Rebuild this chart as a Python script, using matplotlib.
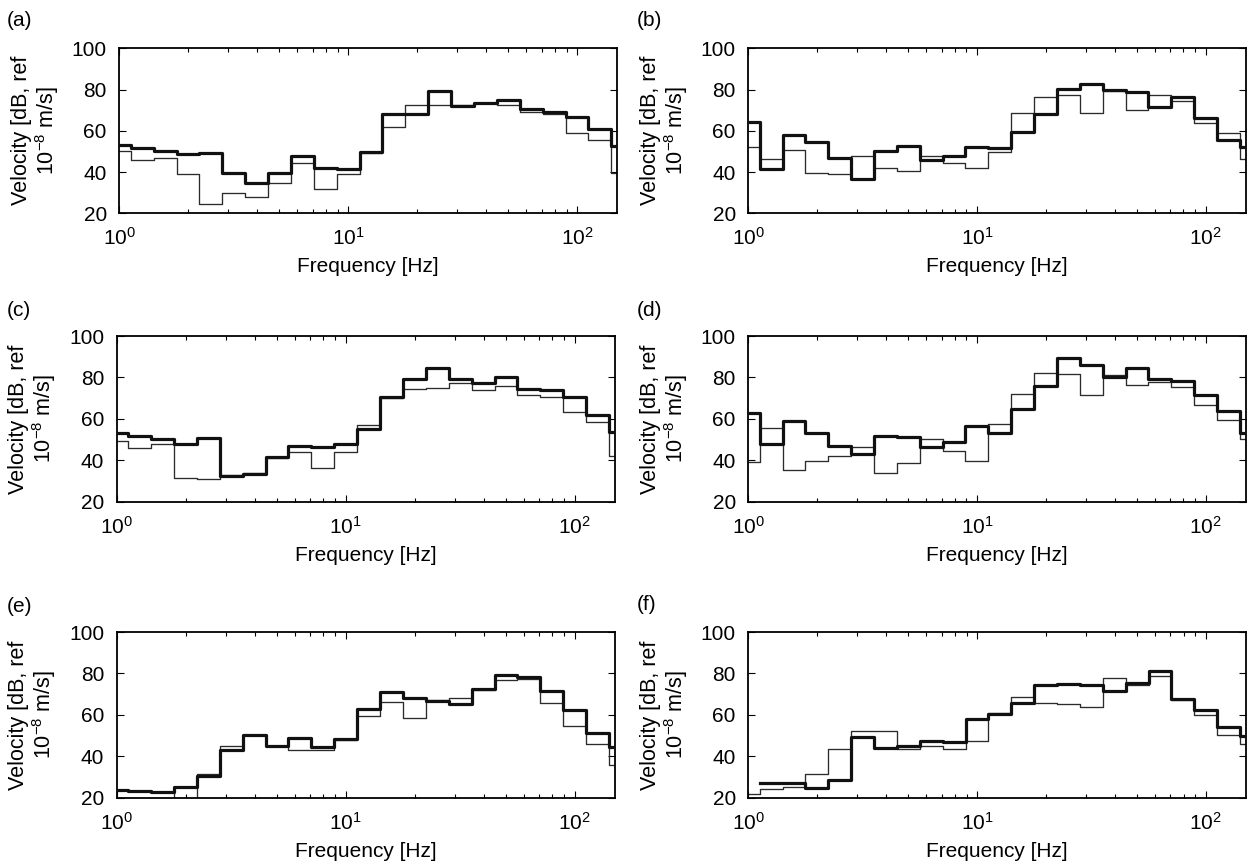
import numpy as np
import matplotlib
matplotlib.use("Agg")
import matplotlib.pyplot as plt

plt.rcParams["font.family"] = ["Liberation Sans", "DejaVu Sans"]
plt.rcParams["mathtext.fontset"] = "custom"
plt.rcParams["mathtext.rm"] = "Liberation Sans"
plt.rcParams["mathtext.it"] = "Liberation Sans:italic"
plt.rcParams["mathtext.bf"] = "Liberation Sans:bold"

# One-third octave band centre frequencies [Hz]
band_centres = [1, 1.25, 1.6, 2, 2.5, 3.15, 4, 5, 6.3, 8, 10, 12.5, 16,
                20, 25, 31.5, 40, 50, 63, 80, 100, 125, 160]

panel_labels = ["(a)", "(b)", "(c)", "(d)", "(e)", "(f)"]

# Band velocity levels [dB re 1e-8 m/s]: thick and thin curves per panel
a_thick = [53.0, 51.5, 50.4, 48.6, 49.1, 39.4, 34.6, 39.7, 48.0, 42.2, 41.4, 49.9,
           68.2, 68.2, 79.5, 72.1, 73.3, 75.0, 70.8, 69.0, 66.6, 60.7, 52.7]
a_thin = [50.4, 45.9, 47.0, 39.1, 24.6, 30.0, 27.8, 34.9, 44.3, 32.0, 39.1, 49.1,
          61.7, 72.5, 72.4, 72.4, 73.3, 72.5, 69.0, 68.2, 58.8, 55.3, 39.4]

b_thick = [64.1, 41.4, 58.0, 54.4, 46.7, 36.5, 50.0, 52.5, 46.0, 48.0, 52.3, 51.9,
           59.6, 68.2, 80.1, 82.6, 79.8, 79.0, 71.4, 76.6, 66.1, 55.6, 52.3]
b_thin = [52.0, 46.2, 50.7, 39.4, 39.1, 47.8, 42.2, 40.5, 47.6, 44.3, 41.8, 49.9,
          68.8, 76.6, 77.4, 68.5, 79.5, 70.1, 77.4, 74.6, 64.0, 58.8, 46.2]

c_thick = [53.3, 51.9, 50.1, 47.8, 50.6, 32.5, 33.5, 41.4, 47.0, 46.3, 47.8, 54.9,
           70.4, 79.1, 84.4, 79.1, 77.5, 80.0, 74.4, 73.9, 70.4, 61.8, 53.5]
c_thin = [49.4, 45.7, 47.8, 31.6, 30.8, 32.8, 33.8, 40.9, 43.8, 36.1, 44.1, 57.0,
          69.9, 74.2, 74.7, 77.5, 73.9, 75.8, 71.5, 70.7, 63.4, 58.6, 42.2]

d_thick = [63.0, 47.8, 58.9, 53.0, 47.0, 42.8, 51.9, 51.4, 46.3, 49.0, 56.5, 53.0,
           64.7, 76.0, 89.5, 86.0, 80.0, 84.4, 79.2, 78.4, 71.5, 63.9, 53.0]
d_thin = [39.3, 55.4, 35.3, 39.8, 42.2, 46.2, 33.7, 38.5, 50.2, 44.4, 39.8, 57.5,
          72.0, 82.0, 81.6, 71.5, 81.2, 76.3, 77.9, 75.5, 66.7, 59.4, 50.1]

e_thick = [23.5, 23.0, 22.7, 25.4, 30.3, 42.8, 50.1, 44.8, 48.8, 44.4, 48.1, 62.6,
           71.0, 68.1, 66.7, 65.1, 72.6, 79.1, 78.3, 71.5, 62.2, 51.2, 44.4]
e_thin = [23.8, 23.2, 22.7, 18.0, 31.6, 44.8, 50.1, 44.8, 42.8, 43.0, 47.7, 59.3,
          66.2, 58.6, 67.3, 68.3, 72.1, 77.0, 77.5, 65.7, 54.4, 46.1, 35.6]

f_thick = [np.nan, 27.2, 27.2, 24.6, 28.7, 49.3, 44.0, 45.2, 47.3, 46.9, 58.1, 60.5,
           65.7, 74.2, 74.7, 74.2, 71.3, 75.5, 81.2, 67.8, 62.5, 54.1, 49.6]
f_thin = [21.9, 24.0, 25.4, 31.6, 43.6, 52.2, 52.2, 43.6, 45.2, 43.6, 47.2, 60.9,
          68.6, 65.9, 65.1, 63.8, 77.9, 74.2, 78.7, 67.3, 60.1, 50.1, 45.7]

thick_sets = [a_thick, b_thick, c_thick, d_thick, e_thick, f_thick]
thin_sets = [a_thin, b_thin, c_thin, d_thin, e_thin, f_thin]

# band edges half a third-octave either side of each centre
n_bands = len(band_centres)
edges = 10 ** ((np.arange(n_bands + 1) - 0.5) / 10)

W, H = 1251, 867
fig = plt.figure(figsize=(W / 100, H / 100), dpi=100)

# axes boxes in pixels: left, top, width, height
boxes = [(119.3, 48.3, 498.0, 165.0), (748.3, 48.3, 497.5, 165.0),
         (116.7, 336.0, 498.3, 165.7), (748.3, 336.0, 497.5, 165.7),
         (116.7, 632.0, 498.3, 165.7), (748.3, 632.0, 497.7, 165.7)]
label_pos = [(7, 20), (637, 20), (7, 311), (637, 311), (7, 606), (637, 605)]

FS = 15
for i in range(6):
    l, t, w, h = boxes[i]
    ax = fig.add_axes([l / W, 1 - (t + h) / H, w / W, h / H])
    thin = np.asarray(thin_sets[i], dtype=float)
    thick = np.asarray(thick_sets[i], dtype=float)
    ax.step(edges, np.append(thin, thin[-1]), where="post",
            color="#2b2b2b", lw=0.95, zorder=2)
    ax.step(edges, np.append(thick, thick[-1]), where="post",
            color="#111111", lw=2.3, zorder=3)
    ax.set_xscale("log")
    ax.set_xlim(1, 150)
    ax.set_ylim(20, 100)
    ax.set_yticks([20, 40, 60, 80, 100])
    ax.tick_params(which="both", direction="in", top=True, right=True,
                   labelsize=FS, width=0.8)
    ax.tick_params(axis="x", which="major", length=5, pad=10)
    ax.tick_params(axis="x", which="minor", length=3)
    ax.tick_params(axis="y", which="major", length=5, pad=9)
    for s in ax.spines.values():
        s.set_linewidth(1.3)
    ax.set_xlabel("Frequency [Hz]", fontsize=FS)
    ax.xaxis.set_label_coords(0.5, -0.265)
    ax.set_ylabel("Velocity [dB, ref\n10$^{-8}$ m/s]", fontsize=15.5,
                  linespacing=1.05)
    ax.yaxis.set_label_coords(-0.118, 0.5)
    lx, ly = label_pos[i]
    fig.text(lx / W, 1 - ly / H, panel_labels[i], fontsize=FS,
             ha="left", va="center")

fig.savefig("out.png", dpi=100)
